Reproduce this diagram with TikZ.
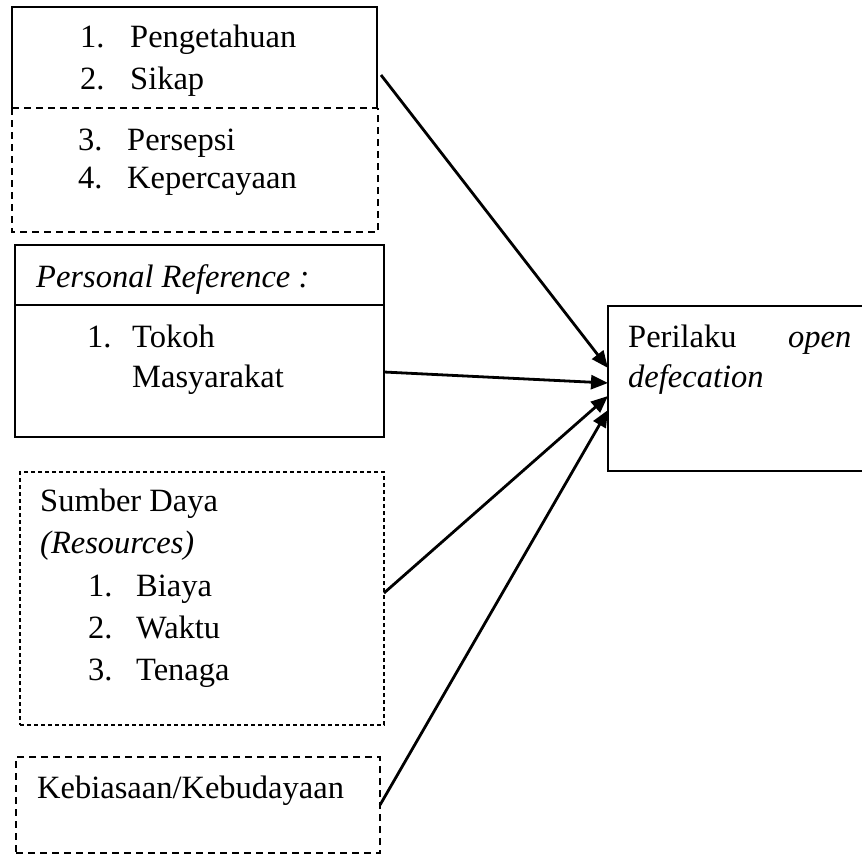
\documentclass[tikz,border=0pt]{standalone}
\usepackage{fontspec}
\setmainfont{Liberation Serif}
\usetikzlibrary{arrows.meta}
\begin{document}
\begin{tikzpicture}[x=1pt,y=-1pt,
  txt/.style={anchor=base west,inner sep=0pt,font=\fontsize{32.5}{38}\selectfont},
  boxnode/.style={anchor=north west,inner sep=0pt,outer sep=0pt},
  solidline/.style={line width=2.4pt},
  dashline/.style={line width=2.4pt,dash pattern=on 7pt off 5pt},
  finedash/.style={line width=1.8pt,dash pattern=on 4pt off 3pt},
  conn/.style={line width=2.8pt,-{Triangle[length=17pt,width=14pt]}}]
\useasboundingbox (0,0) rectangle (862,855);

% --- boxes ---
\node[boxnode,minimum width=365pt,minimum height=225pt] (know) at (12,7) {};
\draw[solidline] (know.west |- 0,108) -- (know.north west) -- (know.north east) -- (know.east |- 0,108);
\draw[dashline] (know.west |- 0,108) -- (know.east |- 0,108);
\draw[dashline] (know.west |- 0,108) -- (know.south west) -- ([xshift=1pt]know.south east) -- ([xshift=1pt]know.east |- 0,108);

\node[boxnode,draw,solidline,minimum width=369pt,minimum height=192pt] (pref) at (15,245) {};
\draw[solidline] (pref.west |- 0,305) -- (pref.east |- 0,305);

\node[boxnode,draw,solidline,minimum width=262pt,minimum height=165pt] (target) at (608,306) {};

\node[boxnode,draw,finedash,minimum width=364pt,minimum height=253pt] (res) at (20,472) {};

\node[boxnode,draw,dashline,minimum width=364pt,minimum height=96pt] (keb) at (16,757) {};

% --- texts ---
\node[txt] (k1n) at (80,47) {1.};
\node[txt] (k1) at (130,47) {Pengetahuan};
\node[txt] (k2n) at (80,89) {2.};
\node[txt] (k2) at (130,89) {Sikap};
\node[txt] (k3n) at (78,150) {3.};
\node[txt] (k3) at (127,150) {Persepsi};
\node[txt] (k4n) at (78,188) {4.};
\node[txt] (k4) at (127,188) {Kepercayaan};

\node[txt] (prh) at (36,287) {\itshape Personal Reference :};
\node[txt] (p1n) at (87,347) {1.};
\node[txt] (p1) at (132,347) {Tokoh};
\node[txt] (p1b) at (132,387) {Masyarakat};

\node[txt] (tg1) at (628,347) {Perilaku};
\node[txt] (tg2) at (788,347) {\itshape open};
\node[txt] (tg3) at (628,387) {\itshape defecation};

\node[txt] (r0) at (40,511) {Sumber Daya};
\node[txt] (r0b) at (40,553) {\itshape (Resources)};
\node[txt] (r1n) at (88,596) {1.};
\node[txt] (r1) at (136,596) {Biaya};
\node[txt] (r2n) at (88,638) {2.};
\node[txt] (r2) at (136,638) {Waktu};
\node[txt] (r3n) at (88,680) {3.};
\node[txt] (r3) at (136,680) {Tenaga};

\node[txt] (kb) at (37,798) {Kebiasaan/Kebudayaan};

% --- connectors ---
\coordinate (s1) at (381,75);
\draw[conn] (s1) -- (target.west |- 0,368);
\draw[conn] (pref.east |- 0,372) -- (target.west |- 0,383);
\draw[conn] (res.east |- 0,593) -- (target.west |- 0,396);
\draw[conn] (keb.east |- 0,805) -- (target.west |- 0,410);
\end{tikzpicture}
\end{document}
